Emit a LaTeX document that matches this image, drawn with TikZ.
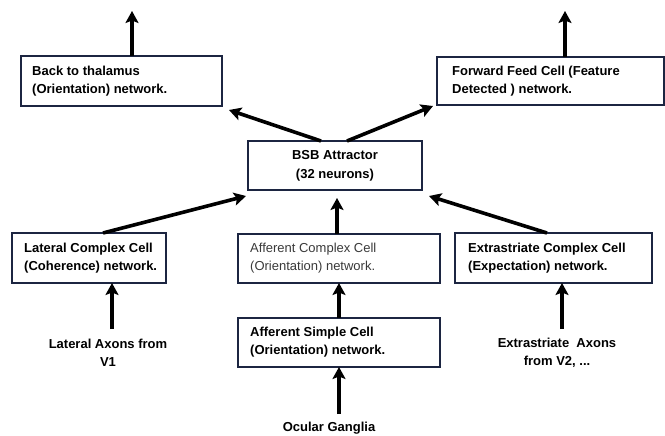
\documentclass[tikz,border=0pt]{standalone}
\usepackage{fontspec}
\setmainfont{Liberation Sans}
\usetikzlibrary{arrows.meta}
\definecolor{boxline}{HTML}{1C2541}
\definecolor{lighttext}{HTML}{3A3A3A}
\begin{document}
\begin{tikzpicture}[x=1pt,y=-1pt,
  boxstyle/.style={draw=boxline,line width=2pt,fill=white},
  boxtext/.style={font=\fontsize{13}{18.5}\selectfont\bfseries,align=left,anchor=west,inner sep=0pt},
  plaintext/.style={font=\fontsize{13}{18.5}\selectfont\bfseries,align=center,inner sep=0pt},
  arrowline/.style={line width=3.6pt,-{Stealth[length=12pt,width=13pt,inset=2.5pt]}}
]
\useasboundingbox (0,0) rectangle (665,436);
% boxes
\draw[boxstyle] (21,56) rectangle (222,106);
\node[boxtext] (back) at (32,81) {Back to thalamus\\(Orientation) network.};
\coordinate (backsouth) at (132,106);
\coordinate (backnorth) at (132,56);
\coordinate (backtip) at (229,110);

\draw[boxstyle] (437,57) rectangle (664,105);
\node[boxtext] (fwd) at (452,81) {Forward Feed Cell (Feature\\Detected ) network.};
\coordinate (fwdnorth) at (565,57);
\coordinate (fwdtip) at (433,106);

\draw[boxstyle] (248,141) rectangle (422,190);
\node[plaintext] (bsb) at (335,166) {BSB Attractor\\(32 neurons)};
\coordinate (bsbl) at (321,141);
\coordinate (bsbr) at (347,141);
\coordinate (bsbtipl) at (246,196);
\coordinate (bsbtipm) at (337,198);
\coordinate (bsbtipr) at (429,196);

\draw[boxstyle] (12,233) rectangle (166,283);
\node[boxtext] (lat) at (24,258) {Lateral Complex Cell\\(Coherence) network.};
\coordinate (latnorth) at (103,233);
\coordinate (latsouth) at (112,283);

\draw[boxstyle] (238,234) rectangle (440,283);
\node[boxtext,font=\fontsize{13}{18.5}\selectfont,text=lighttext] (affc) at (250,258) {Afferent Complex Cell\\(Orientation) network.};
\coordinate (affcnorth) at (337,234);
\coordinate (affcsouth) at (339,283);

\draw[boxstyle] (455,233) rectangle (652,283);
\node[boxtext] (ext) at (468,258) {Extrastriate Complex Cell\\(Expectation) network.};
\coordinate (extnorth) at (547,233);
\coordinate (extsouth) at (562,283);

\draw[boxstyle] (238,318) rectangle (440,367);
\node[boxtext] (affs) at (250,342) {Afferent Simple Cell\\(Orientation) network.};
\coordinate (affsnorth) at (339,318);
\coordinate (affssouth) at (339,367);

% free labels
\node[plaintext] (latax) at (108,353) {Lateral Axons from\\V1};
\node[plaintext] (extax) at (557,353) {Extrastriate \ Axons\\from V2, ...};
\node[plaintext] (ocular) at (329,428) {Ocular Ganglia};
\coordinate (lataxtop) at (112,329);
\coordinate (extaxtop) at (562,329);
\coordinate (oculartop) at (339,414);
\coordinate (backout) at (132,11);
\coordinate (fwdout) at (565,11);

% arrows
\draw[arrowline] (backnorth) -- (backout);
\draw[arrowline] (fwdnorth) -- (fwdout);
\draw[arrowline] (bsbl) -- (backtip);
\draw[arrowline] (bsbr) -- (fwdtip);
\draw[arrowline] (latnorth) -- (bsbtipl);
\draw[arrowline] (affcnorth) -- (bsbtipm);
\draw[arrowline] (extnorth) -- (bsbtipr);
\draw[arrowline] (lataxtop) -- (latsouth);
\draw[arrowline] (affsnorth) -- (affcsouth);
\draw[arrowline] (oculartop) -- (affssouth);
\draw[arrowline] (extaxtop) -- (extsouth);
\end{tikzpicture}
\end{document}
